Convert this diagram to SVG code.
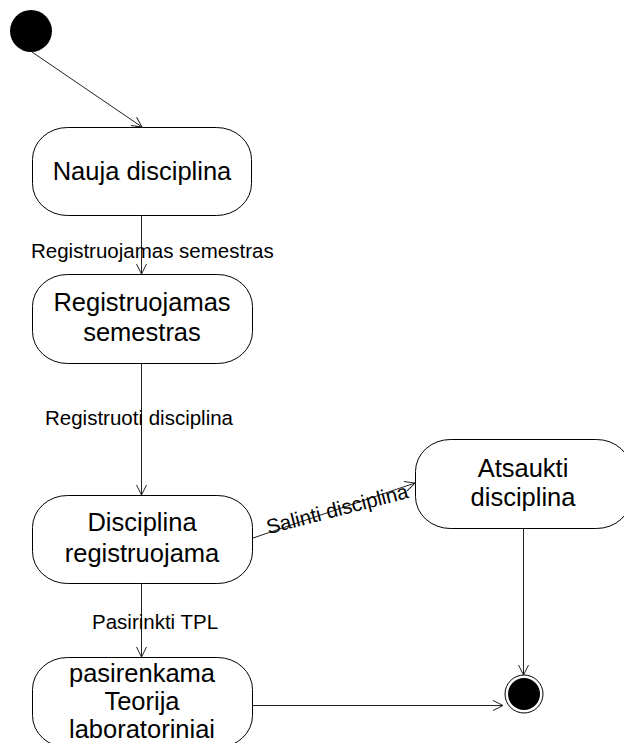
<svg xmlns="http://www.w3.org/2000/svg" width="624" height="743" viewBox="0 0 624 743">
<style>
.node{fill:#fff;stroke:#000;stroke-width:1}
.nt{font-family:"Liberation Sans",Arial,sans-serif;font-size:25.5px;fill:#000;text-anchor:middle}
.lbl{font-family:"Liberation Sans",Arial,sans-serif;font-size:20.5px;fill:#000}
.edge{fill:none;stroke:#222;stroke-width:1}
</style>
<defs>
<marker id="arr" viewBox="0 0 12 12" refX="11" refY="6" markerWidth="12" markerHeight="12" markerUnits="userSpaceOnUse" orient="auto">
<path d="M1,1 L11,6 L1,11" fill="none" stroke="#222" stroke-width="1"/>
</marker>
</defs>
<g id="start"><circle cx="31" cy="31" r="21" fill="#000"/></g>
<g id="n1"><rect class="node" x="32.5" y="127.5" width="219" height="88" rx="35" ry="32"/><text class="nt" x="142" y="180">Nauja disciplina</text></g>
<g id="n2"><rect class="node" x="32.5" y="274.5" width="220" height="89" rx="35" ry="32"/><text class="nt" x="142" y="311">Registruojamas</text><text class="nt" x="142" y="341">semestras</text></g>
<g id="n3"><rect class="node" x="32.5" y="495.5" width="220" height="88" rx="35" ry="32"/><text class="nt" x="142" y="531">Disciplina</text><text class="nt" x="142" y="562">registruojama</text></g>
<g id="n4"><rect class="node" x="32.5" y="657.5" width="220" height="90" rx="35" ry="32"/><text class="nt" x="142" y="682">pasirenkama</text><text class="nt" x="142" y="710">Teorija</text><text class="nt" x="142" y="738">laboratoriniai</text></g>
<g id="n5"><rect class="node" x="415.5" y="439.5" width="216" height="89" rx="35" ry="32"/><text class="nt" x="523" y="477">Atsaukti</text><text class="nt" x="523" y="506">disciplina</text></g>
<g id="end"><circle cx="524" cy="694" r="19" fill="#fff" stroke="#000" stroke-width="1"/><circle cx="524" cy="694" r="16" fill="#000"/></g>
<g id="edges">
<line class="edge" x1="32" y1="52" x2="142" y2="127" marker-end="url(#arr)"/>
<line class="edge" x1="141.5" y1="215" x2="141.5" y2="274" marker-end="url(#arr)"/>
<line class="edge" x1="141.5" y1="363" x2="141.5" y2="495" marker-end="url(#arr)"/>
<line class="edge" x1="141.5" y1="583" x2="141.5" y2="657" marker-end="url(#arr)"/>
<line class="edge" x1="253" y1="538" x2="415" y2="483" marker-end="url(#arr)"/>
<line class="edge" x1="523.5" y1="528" x2="523.5" y2="675" marker-end="url(#arr)"/>
<line class="edge" x1="252" y1="705.5" x2="503" y2="705.5" marker-end="url(#arr)"/>
<text class="lbl" x="31" y="258">Registruojamas semestras</text>
<text class="lbl" x="45" y="425">Registruoti disciplina</text>
<text class="lbl" x="92" y="629">Pasirinkti TPL</text>
<text class="lbl" x="339" y="516" text-anchor="middle" transform="rotate(-14.5 339 516)">Salinti disciplina</text>
</g>
</svg>
